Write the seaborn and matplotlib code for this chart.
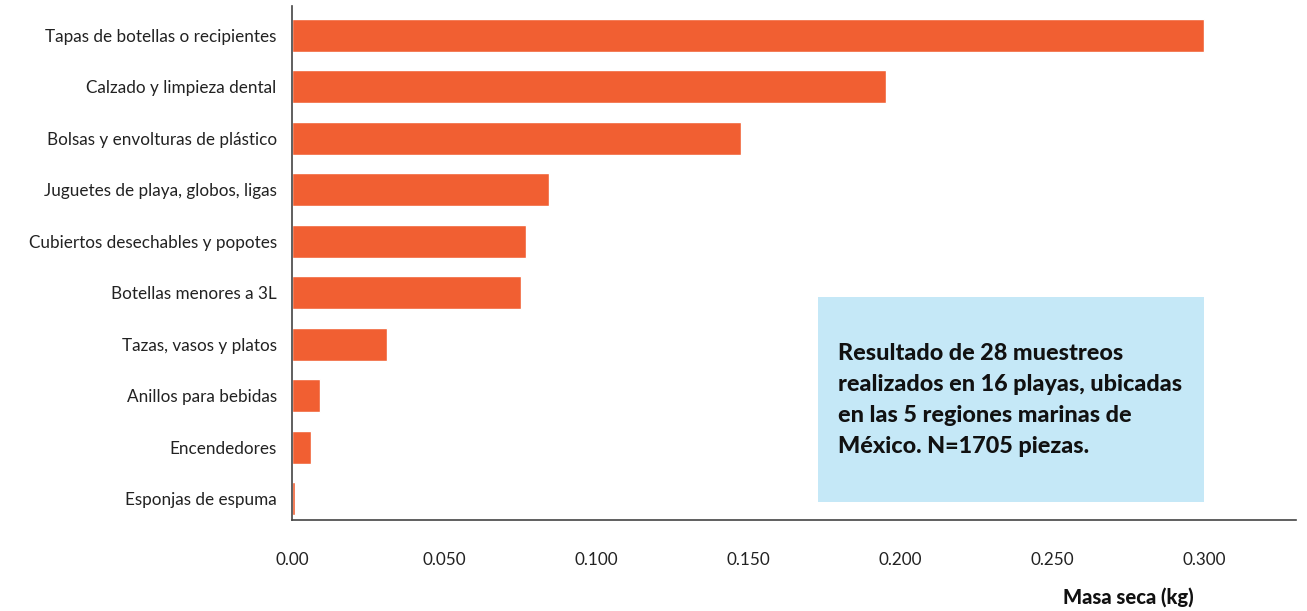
import matplotlib
matplotlib.use("Agg")
from matplotlib import pyplot as plt
from matplotlib.patches import Rectangle
import pandas as pd
import seaborn as sns

# datos
categorias = [
    "Tapas de botellas o recipientes",
    "Calzado y limpieza dental",
    "Bolsas y envolturas de plástico",
    "Juguetes de playa, globos, ligas",
    "Cubiertos desechables y popotes",
    "Botellas menores a 3L",
    "Tazas, vasos y platos",
    "Anillos para bebidas",
    "Encendedores",
    "Esponjas de espuma",
]
masa_seca = [0.300, 0.1955, 0.1477, 0.0847, 0.0771, 0.0752, 0.0313, 0.0093, 0.0061, 0.0011]
ticks_x = [0.0, 0.05, 0.10, 0.15, 0.20, 0.25, 0.30]
etiquetas_x = ["0.00", "0.050", "0.100", "0.150", "0.200", "0.250", "0.300"]
nota = ("Resultado de 28 muestreos\n"
        "realizados en 16 playas, ubicadas\n"
        "en las 5 regiones marinas de\n"
        "México. N=1705 piezas.")

sns.set_theme(style="white")
plt.rcParams['font.family'] = ['Lato', 'DejaVu Sans']

df = pd.DataFrame({"categoria": categorias, "masa": masa_seca})

fig = plt.figure(figsize=(13.07, 6.11), dpi=100)
ax = fig.add_axes([292 / 1307, 1 - 520 / 611, (1296 - 292) / 1307, (520 - 6) / 611])

sns.barplot(data=df, x="masa", y="categoria", color="#F15F32", saturation=1,
            width=0.64, ax=ax)

ax.set_xlim(0, 0.3303)
ax.set_ylim(9.418, -0.573)
ax.set_xticks(ticks_x)
ax.set_xticklabels(etiquetas_x, fontsize=12.3, color="#222222")
ax.tick_params(axis="x", length=0, pad=23)
ax.tick_params(axis="y", length=0, pad=11, labelsize=12.3, labelcolor="#222222")
ax.set_ylabel("")
ax.set_xlabel("")
for s in ["top", "right"]:
    ax.spines[s].set_visible(False)
for s in ["left", "bottom"]:
    ax.spines[s].set_color("#444444")
    ax.spines[s].set_linewidth(1.2)

# recuadro con la nota
ax.add_patch(Rectangle((818 / 1307, 109 / 611), 386 / 1307, 205 / 611,
                       transform=fig.transFigure, facecolor="#C5E8F7",
                       edgecolor="none", zorder=3))
fig.text(838 / 1307, 1 - 400 / 611, nota, fontsize=16.8, fontweight="black",
         va="center", ha="left", linespacing=1.58, color="#111111", zorder=4)

fig.text(1128 / 1307, 1 - 597 / 611, "Masa seca (kg)", fontsize=14.5,
         fontweight="black", ha="center", va="center", color="#111111")

fig.savefig("out.png", dpi=100)
